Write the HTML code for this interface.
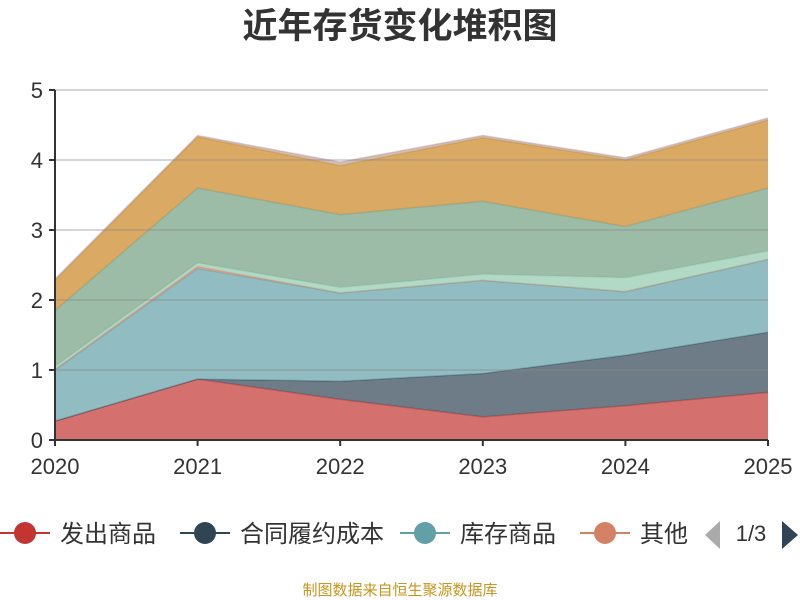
<!DOCTYPE html>
<html><head><meta charset="utf-8"><style>
body{margin:0;background:#fff;}
svg{display:block;font-family:"Liberation Sans","Noto Sans CJK SC",sans-serif;}
</style></head><body>
<svg id="chart" width="800" height="600">
<text x="400" y="38" text-anchor="middle" font-size="35" font-weight="bold" fill="#333">近年存货变化堆积图</text>
<g id="areas"></g>
<g id="grid"></g>
<g id="axes"></g>
<g id="legend"></g>
<text x="400" y="595" text-anchor="middle" font-size="15" fill="#c8961e">制图数据来自恒生聚源数据库</text>
</svg>
<script>
const categories=["2020","2021","2022","2023","2024","2025"];
const seriesNames=["发出商品","合同履约成本","库存商品","其他","s5","s6","s7","s8"];
const s1=[0.27,0.87,0.58,0.33,0.49,0.68];
const s2=[0.0,0.0,0.26,0.62,0.72,0.86];
const s3=[0.73,1.58,1.26,1.33,0.91,1.04];
const s4=[0.01,0.03,0.0,0.0,0.0,0.0];
const s5=[0.04,0.05,0.08,0.09,0.2,0.12];
const s6=[0.8,1.07,1.04,1.04,0.73,0.9];
const s7=[0.43,0.73,0.7,0.91,0.95,0.97];
const s8=[0.02,0.02,0.05,0.03,0.03,0.03];
const yTicks=[0,1,2,3,4,5];
const colors=["#c23531","#2f4554","#61a0a8","#d48265","#91c7ae","#749f83","#ca8622","#bda29a"];
const NS="http://www.w3.org/2000/svg";
const X0=55,X1=768,Y0=440,YS=70;
const xs=i=>X0+(X1-X0)*i/(categories.length-1);
const ys=v=>Y0-v*YS;
function mk(t,a,p){const e=document.createElementNS(NS,t);for(const k in a)e.setAttribute(k,a[k]);p.appendChild(e);return e;}
const all=[s1,s2,s3,s4,s5,s6,s7,s8];
const areas=document.getElementById('areas');
let base=categories.map(()=>0);
all.forEach((s,k)=>{
  const top=base.map((b,i)=>b+s[i]);
  let d="M"+top.map((v,i)=>xs(i)+","+ys(v)).join("L");
  for(let i=categories.length-1;i>=0;i--)d+="L"+xs(i)+","+ys(base[i]);
  const p=mk('path',{d:d+"Z",fill:colors[k],'fill-opacity':0.7},areas);
  
  
  const l=mk('polyline',{points:top.map((v,i)=>xs(i)+","+ys(v)).join(" "),fill:"none",stroke:colors[k],'stroke-width':1.5,'stroke-opacity':0.5},areas);
  
  
  base=top;
});
const grid=document.getElementById('grid'),axes=document.getElementById('axes');
yTicks.forEach(t=>{
  if(t>0){const g=mk('line',{x1:X0,x2:X1,y1:ys(t),y2:ys(t),stroke:"#888",'stroke-opacity':0.45,'stroke-width':1.5},grid);
  }
  mk('line',{x1:X0-6,x2:X0,y1:ys(t),y2:ys(t),stroke:"#333",'stroke-width':2},axes);
  const tx=mk('text',{x:X0-12,y:ys(t)+8,'text-anchor':'end','font-size':22,fill:"#333"},axes);tx.textContent=t;
  
});
mk('line',{x1:X0,x2:X0,y1:ys(5),y2:Y0,stroke:"#333",'stroke-width':2},axes);
mk('line',{x1:X0,x2:X1,y1:Y0,y2:Y0,stroke:"#333",'stroke-width':2},axes);
categories.forEach((c,i)=>{
  mk('line',{x1:xs(i),x2:xs(i),y1:Y0,y2:Y0+6,stroke:"#333",'stroke-width':2},axes);
  const tx=mk('text',{x:Math.min(xs(i),770),y:Y0+34,'text-anchor':'middle','font-size':22,fill:"#333"},axes);tx.textContent=c;
  
});
const lg=document.getElementById('legend');
const items=[[0,"发出商品",0],[1,"合同履约成本",180],[2,"库存商品",400],[3,"其他",580]];
items.forEach(([k,n,x])=>{
  const g=mk('g',{},lg);
  
  
  mk('line',{x1:x,x2:x+50,y1:533,y2:533,stroke:colors[k],'stroke-width':2},g);
  mk('circle',{cx:x+25,cy:533,r:11,fill:colors[k]},g);
  const t=mk('text',{x:x+60,y:542,'font-size':24,fill:"#333"},g);t.textContent=n;
});
const pl=mk('path',{d:"M720,521L705,535L720,549Z",fill:"#aaa"},lg);

const pt=mk('text',{x:751,y:541,'text-anchor':'middle','font-size':22,fill:"#333"},lg);pt.textContent="1/3";

const pn=mk('path',{d:"M782,521L798,535L782,549Z",fill:"#2f4554"},lg);

</script>
</body></html>
